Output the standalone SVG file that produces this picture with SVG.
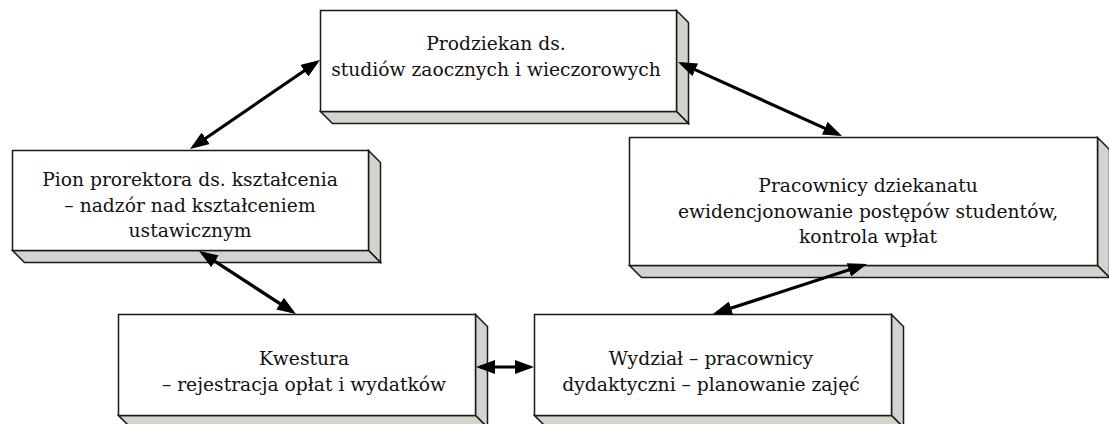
<svg xmlns="http://www.w3.org/2000/svg" width="1109" height="424" viewBox="0 0 1109 424">
  <style>
    .front { fill: #ffffff; stroke: #1a1a1a; stroke-width: 1.5; }
    .side { fill: #d6d3cf; stroke: #1a1a1a; stroke-width: 1.5; stroke-linejoin: miter; }
    .lbl { font-family: "DejaVu Serif", "Liberation Serif", serif; font-size: 18.7px; fill: #111; text-anchor: middle; }
    .conn { stroke: #000; stroke-width: 3.2; fill: none; marker-start: url(#head); marker-end: url(#head); }
  </style>
  <defs>
    <marker id="head" markerUnits="userSpaceOnUse" markerWidth="20" markerHeight="14" viewBox="0 0 20 14" refX="15" refY="7" orient="auto-start-reverse">
      <path d="M0,0 L19,7 L0,14 z" fill="#000"/>
    </marker>
  </defs>

  <!-- Prodziekan -->
  <g id="prodziekan">
    <polygon class="side" points="676.5,10.5 688.5,22.5 688.5,123.5 676.5,111.5"/>
    <polygon class="side" points="320.5,111.5 676.5,111.5 688.5,123.5 332.5,123.5"/>
    <rect class="front" x="320.5" y="10.5" width="356" height="101"/>
    <text class="lbl" x="496" y="50">Prodziekan ds.</text>
    <text class="lbl" x="496" y="76">studiów zaocznych i wieczorowych</text>
  </g>

  <!-- Pion prorektora -->
  <g id="pion">
    <polygon class="side" points="368.5,150.5 380.5,162.5 380.5,262.5 368.5,250.5"/>
    <polygon class="side" points="12.5,250.5 368.5,250.5 380.5,262.5 24.5,262.5"/>
    <rect class="front" x="12.5" y="150.5" width="356" height="100"/>
    <text class="lbl" x="190" y="186">Pion prorektora ds. kształcenia</text>
    <text class="lbl" x="190" y="212">– nadzór nad kształceniem</text>
    <text class="lbl" x="190" y="237">ustawicznym</text>
  </g>

  <!-- Pracownicy dziekanatu -->
  <g id="dziekanat">
    <polygon class="side" points="1097.5,137.5 1109.5,149.5 1109.5,277.5 1097.5,265.5"/>
    <polygon class="side" points="629.5,265.5 1097.5,265.5 1109.5,277.5 641.5,277.5"/>
    <rect class="front" x="629.5" y="137.5" width="468" height="128"/>
    <text class="lbl" x="868" y="192">Pracownicy dziekanatu</text>
    <text class="lbl" x="868" y="218">ewidencjonowanie postępów studentów,</text>
    <text class="lbl" x="868" y="243">kontrola wpłat</text>
  </g>

  <!-- Kwestura -->
  <g id="kwestura">
    <polygon class="side" points="475.5,314.5 487.5,326.5 487.5,427.5 475.5,415.5"/>
    <polygon class="side" points="118.5,415.5 475.5,415.5 487.5,427.5 130.5,427.5"/>
    <rect class="front" x="118.5" y="314.5" width="357" height="101"/>
    <text class="lbl" x="304" y="365">Kwestura</text>
    <text class="lbl" x="304" y="391">– rejestracja opłat i wydatków</text>
  </g>

  <!-- Wydzial -->
  <g id="wydzial">
    <polygon class="side" points="891.5,314.5 903.5,326.5 903.5,427.5 891.5,415.5"/>
    <polygon class="side" points="534.5,415.5 891.5,415.5 903.5,427.5 546.5,427.5"/>
    <rect class="front" x="534.5" y="314.5" width="357" height="101"/>
    <text class="lbl" x="711" y="365">Wydział – pracownicy</text>
    <text class="lbl" x="711" y="391">dydaktyczni – planowanie zajęć</text>
  </g>

  <!-- connectors -->
  <g id="connectors">
    <line class="conn" x1="193.3" y1="146.7" x2="316.7" y2="62.3"/>
    <line class="conn" x1="681.6" y1="63.6" x2="838.4" y2="134.4"/>
    <line class="conn" x1="202.4" y1="253.2" x2="292.6" y2="311.8"/>
    <line class="conn" x1="480" y1="367" x2="530" y2="367"/>
    <line class="conn" x1="716.8" y1="312.8" x2="863.2" y2="265.2"/>
  </g>
</svg>
